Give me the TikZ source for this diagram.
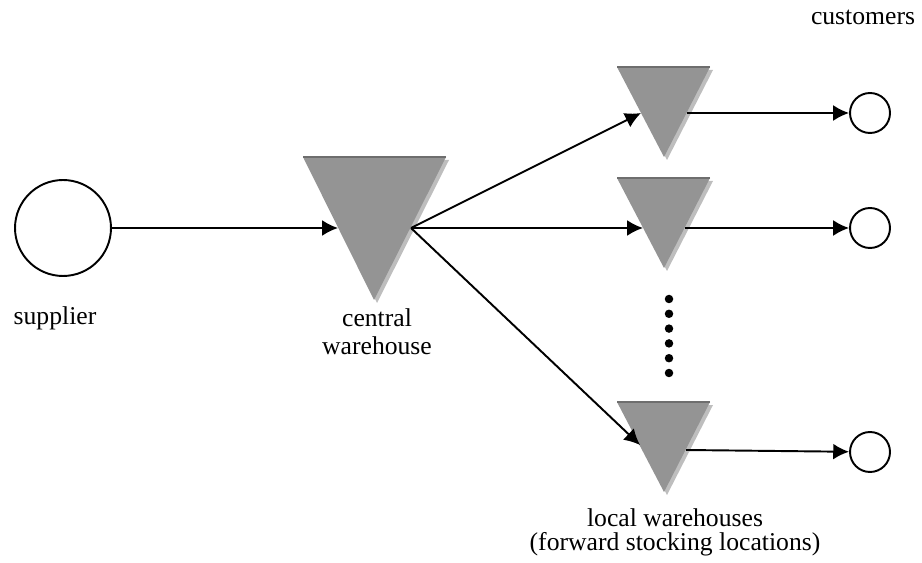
\documentclass[tikz,border=0pt]{standalone}
\usepackage{fontspec}
\setmainfont{Liberation Serif}
\usetikzlibrary{arrows.meta}

\definecolor{whfill}{RGB}{148,148,148}
\definecolor{whshadow}{RGB}{190,190,190}
\definecolor{whtop}{RGB}{110,110,110}

\tikzset{
  site/.style={circle, draw, line width=1.1pt, inner sep=0pt},
  flow/.style={line width=1.1pt, -{Latex[length=9pt,width=9pt]}},
  lbl/.style={font=\fontsize{14.6}{16.5}\selectfont, inner sep=0pt, align=center},
  dot/.style={circle, fill=black, inner sep=0pt, minimum size=0.17cm}
}

\begin{document}
\begin{tikzpicture}[x=0.02cm, y=-0.02cm]
    \useasboundingbox (0,0) rectangle (922,563);

    % Supplier
    \node[site, minimum size=1.92cm] (sup) at (63,228) {};
    \node[lbl, anchor=base] (suplbl) at (55,325) {supplier};

    % Central warehouse
    \fill[whshadow] (306,160) -- (449,160) -- (377,303) -- cycle;
    \fill[whfill] (303,157) -- (446,157) -- (374,300) -- cycle;
    \draw[whtop, line width=1pt] (303,157) -- (446,157);
    \coordinate (cw-w) at (338,228);
    \coordinate (cw-e) at (411,228);
    \node[lbl, anchor=base] (cwlbl) at (377,355) {central\\warehouse};

    % Local warehouses
    % Local 1
    \fill[whshadow] (620,70) -- (713,70) -- (667,160) -- cycle;
    \fill[whfill] (617,67) -- (710,67) -- (664,157) -- cycle;
    \draw[whtop, line width=1pt] (617,67) -- (710,67);
    \coordinate (lw1-w) at (641,113);
    \coordinate (lw1-e) at (687,113);

    % Local 2
    \fill[whshadow] (620,181) -- (713,181) -- (667,271) -- cycle;
    \fill[whfill] (617,178) -- (710,178) -- (664,268) -- cycle;
    \draw[whtop, line width=1pt] (617,178) -- (710,178);
    \coordinate (lw2-w) at (643,228);
    \coordinate (lw2-e) at (685,228);

    % Local 3
    \fill[whshadow] (620,405) -- (713,405) -- (667,495) -- cycle;
    \fill[whfill] (617,402) -- (710,402) -- (664,492) -- cycle;
    \draw[whtop, line width=1pt] (617,402) -- (710,402);
    \coordinate (lw3-w) at (640,445);
    \coordinate (lw3-e) at (686,450);

    \node[lbl, anchor=base, font=\fontsize{14.6}{13.2}\selectfont] (lwlbl) at (675,550)
      {local warehouses\\(forward stocking locations)};

    % Dots
    \foreach \i in {0,...,5}
      \node[dot] (d\i) at (669,299+14.8*\i) {};

    % Customers
    \node[site, minimum size=0.8cm] (c1) at (870,113) {};
    \node[site, minimum size=0.8cm] (c2) at (870,228) {};
    \node[site, minimum size=0.8cm] (c3) at (870,452) {};
    \node[lbl, anchor=base] (clbl) at (863,25) {customers};

    % Edges
    \draw[flow] (sup) -- (cw-w);
    \draw[flow] (cw-e) -- (lw1-w);
    \draw[flow] (cw-e) -- (lw2-w);
    \draw[flow] (cw-e) -- (lw3-w);
    \draw[flow] (lw1-e) -- (c1);
    \draw[flow] (lw2-e) -- (c2);
    \draw[flow] (lw3-e) -- (c3);
\end{tikzpicture}
\end{document}
